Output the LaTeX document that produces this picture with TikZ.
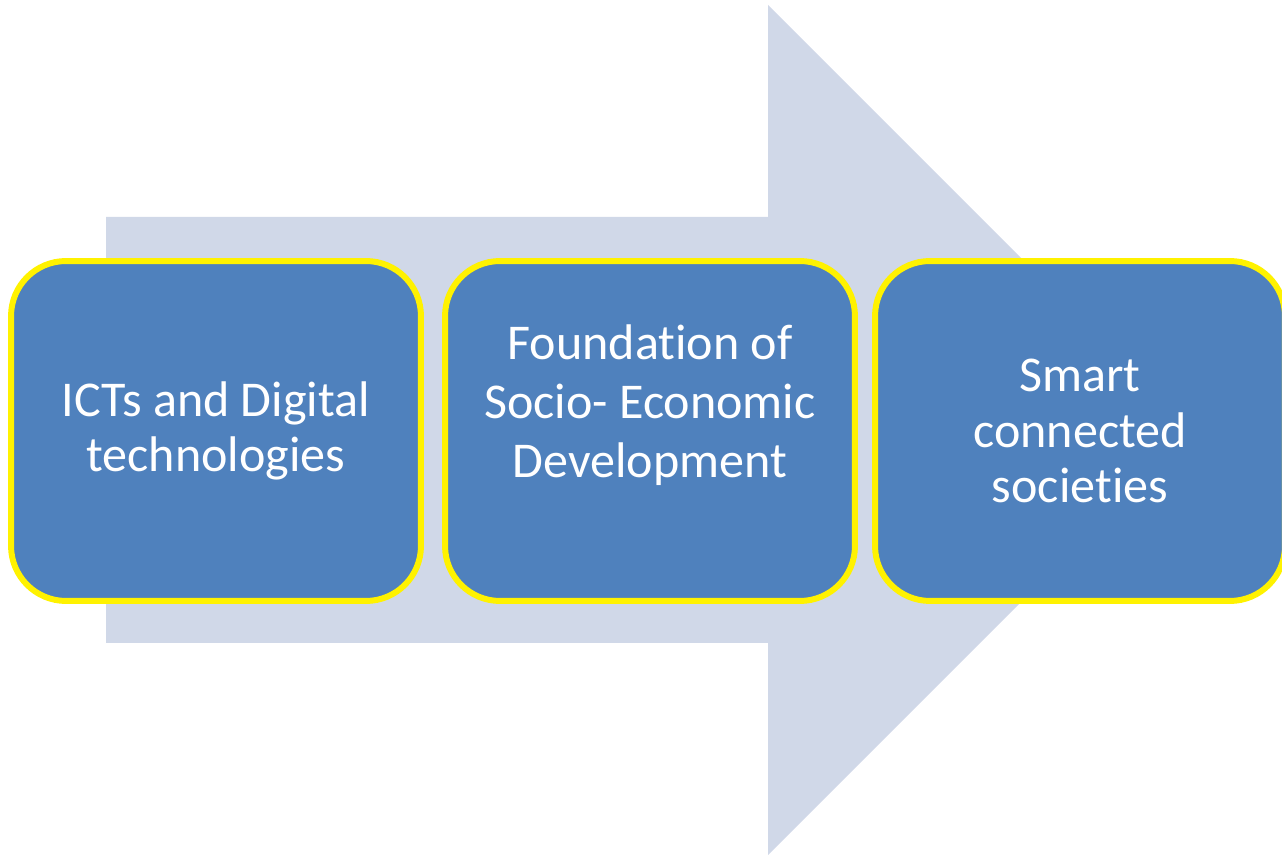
\documentclass[tikz,border=0pt]{standalone}
\usepackage{fontspec}
\setmainfont{Carlito}[Ligatures=NoCommon]
\usepackage{tikz}

\definecolor{arrowgray}{HTML}{D0D8E8}
\definecolor{boxblue}{HTML}{4F81BD}

\begin{document}
\begin{tikzpicture}[x=0.02cm, y=-0.02cm,
        stage/.style={rectangle, rounded corners=1.1cm, draw=yellow, line width=3.4pt,
            fill=boxblue, text=white, align=center, inner sep=0pt,
            minimum width=8.2cm, minimum height=6.8cm,
            font=\fontsize{28.5}{31.5}\selectfont}]
        \useasboundingbox (0,0) rectangle (1282,857);

        % big background arrow
        \fill[arrowgray] (106,217) -- (768,217) -- (768,5) -- (1193,430)
            -- (768,855) -- (768,643) -- (106,643) -- cycle;

        \node[stage] (ict) at (216,431) {ICTs and Digital\\technologies};
        \node[stage] (found) at (650,431) {Foundation of\\[2.2pt]Socio- Economic\\[2.2pt]Development\\[2.2pt]\mbox{}};
        \node[stage] (smart) at (1080,431) {Smart\\connected\\societies};
    \end{tikzpicture}
\end{document}
